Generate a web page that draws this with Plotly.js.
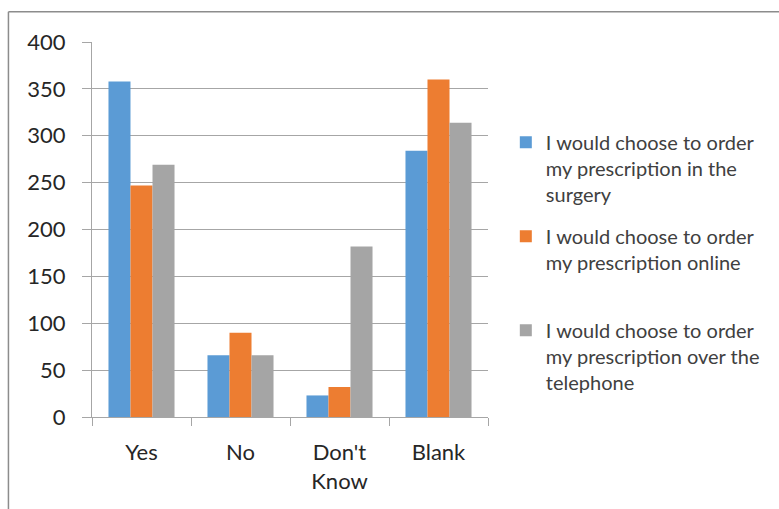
<!DOCTYPE html>
<html>
<head>
<meta charset="utf-8">
<script src="https://cdn.plot.ly/plotly-3.0.1.min.js"></script>
<style>
  html, body { margin: 0; padding: 0; background: #fff; }
  #chart { width: 779px; height: 509px; }
</style>
</head>
<body>
<div id="chart"></div>
<script>
// Survey answers, grouped by response
const categories = ["Yes", "No", "Don't<br>Know", "Blank"];

const seriesNames = [
  "I would choose to order<br>my prescription in the<br>surgery",
  "I would choose to order<br>my prescription online<br>&nbsp;",
  "I would choose to order<br>my prescription over the<br>telephone"
];

const inSurgery = [358, 66, 23, 284];
const online = [247, 90, 32, 360];
const telephone = [269, 66, 182, 314];

const seriesValues = [inSurgery, online, telephone];
const seriesColors = ["#5B9BD5", "#ED7D31", "#A5A5A5"];

const yTicks = [0, 50, 100, 150, 200, 250, 300, 350, 400];

const gridGray = "#a6a6a6";
const textDark = "#262626";

const traces = seriesValues.map((vals, i) => ({
  type: "bar",
  name: seriesNames[i],
  x: categories,
  y: vals,
  legendgroup: "g" + i,
  marker: { color: seriesColors[i], line: { width: 0 } },
  hoverinfo: "skip"
}));

const layout = {
  width: 779,
  height: 509,
  margin: { l: 92, r: 291, t: 42, b: 92 },
  paper_bgcolor: "#fff",
  plot_bgcolor: "#fff",
  barmode: "group",
  bargap: 0.333,
  bargroupgap: 0,
  font: { family: "Lato, 'Open Sans', sans-serif", color: textDark },
  xaxis: {
    type: "category",
    showline: true,
    linecolor: gridGray,
    linewidth: 1,
    ticks: "outside",
    tickson: "boundaries",
    ticklen: 8,
    tickcolor: gridGray,
    showgrid: false,
    tickfont: { size: 22, color: textDark },
    ticklabelstandoff: 16,
    fixedrange: true
  },
  yaxis: {
    range: [0, 400],
    tickvals: yTicks,
    showline: true,
    linecolor: gridGray,
    linewidth: 1,
    ticks: "outside",
    ticklen: 9,
    tickcolor: gridGray,
    showgrid: true,
    gridcolor: gridGray,
    gridwidth: 1,
    zeroline: false,
    tickfont: { size: 22, color: textDark },
    ticklabelstandoff: 12,
    fixedrange: true
  },
  legend: {
    x: 1.045,
    xanchor: "left",
    y: 0.785,
    yanchor: "top",
    valign: "top",
    tracegroupgap: 13,
    font: { size: 20, color: "#404040" },
    bgcolor: "rgba(0,0,0,0)",
    borderwidth: 0
  },
  showlegend: true,
  // frame along the top and left edges of the chart
  shapes: [
    { type: "line", xref: "paper", yref: "paper", x0: -0.211, x1: 1.74, y0: 1.081, y1: 1.081,
      line: { color: "#8c8c8c", width: 1.5 } },
    { type: "line", xref: "paper", yref: "paper", x0: -0.211, x1: -0.211, y0: 1.081, y1: -0.26,
      line: { color: "#8c8c8c", width: 1.5 } }
  ]
};

Plotly.newPlot("chart", traces, layout, { displayModeBar: false, staticPlot: true });
</script>
</body>
</html>
